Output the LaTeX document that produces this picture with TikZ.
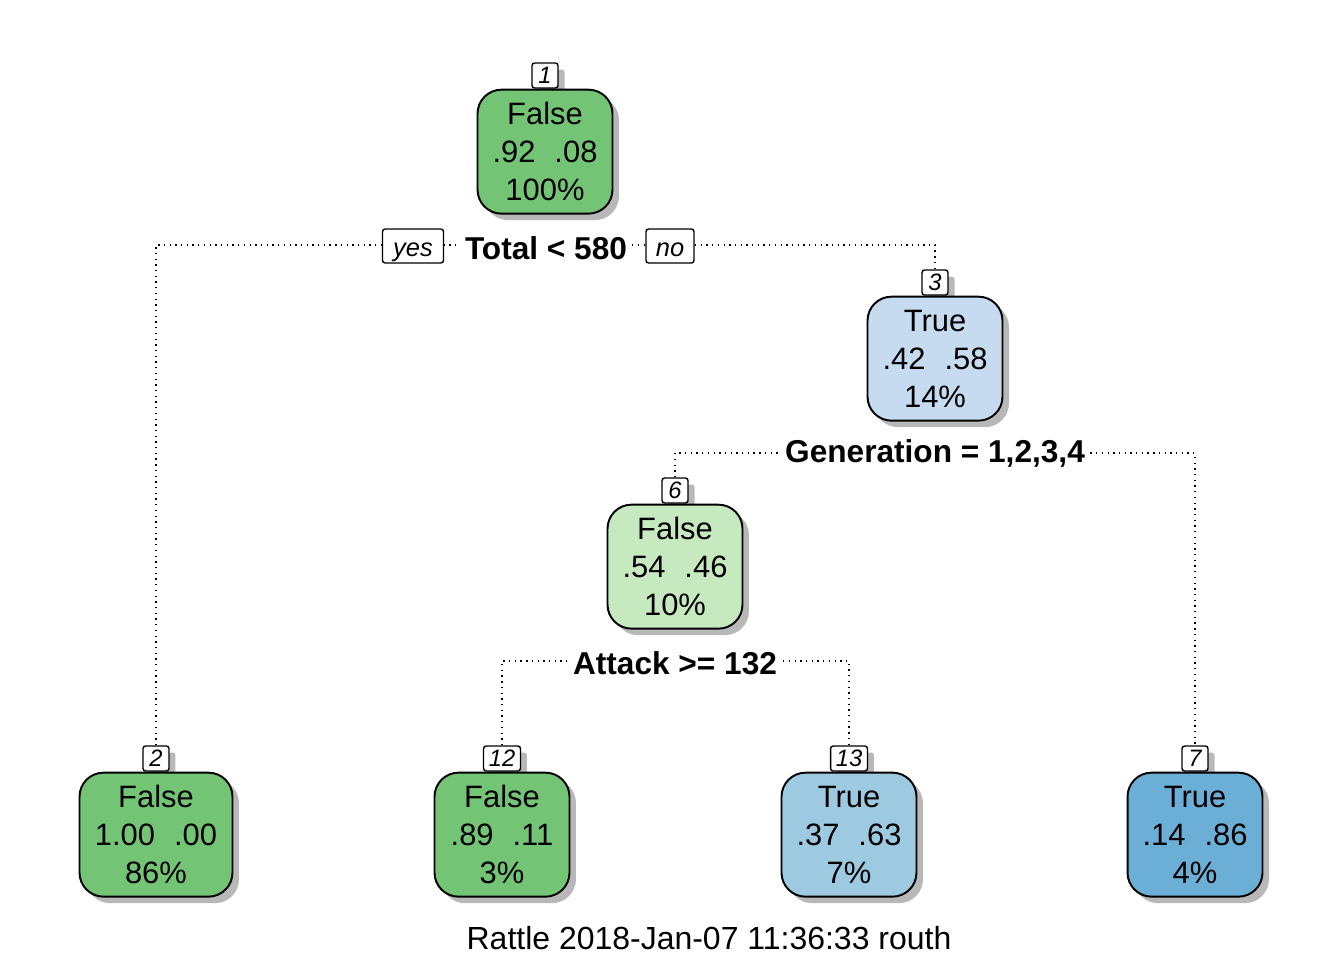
\documentclass[tikz,border=0pt]{standalone}
\usepackage{fontspec}
\setmainfont{Liberation Sans}
\usetikzlibrary{shadows,positioning}
\definecolor{grnDark}{HTML}{74C476}
\definecolor{grnLight}{HTML}{C7E9C0}
\definecolor{bluLight}{HTML}{C6DBEF}
\definecolor{bluMid}{HTML}{9ECAE1}
\definecolor{bluDark}{HTML}{6BAED6}
\newcommand{\pr}[2]{#1\hspace{0.38cm}#2}

\begin{document}
\begin{tikzpicture}[x=0.02cm,y=-0.02cm,
  shade/.style={drop shadow={shadow xshift=0.13cm,shadow yshift=-0.13cm,fill=black!28,opacity=1}},
  leaf/.style={draw,line width=1.1pt,rounded corners=0.48cm,minimum width=2.7cm,minimum height=2.48cm,
    inner sep=0pt,align=center,font=\fontsize{17.6}{21.6}\selectfont,shade},
  numbox/.style={draw,fill=white,line width=0.8pt,rounded corners=1.5pt,minimum width=0.52cm,minimum height=0.5cm,
    inner xsep=3pt,inner ysep=0pt,font=\fontsize{13.5}{13.5}\selectfont\itshape,shade},
  split/.style={fill=white,inner xsep=2pt,inner ysep=1pt,font=\fontsize{18}{18}\selectfont\bfseries},
  yesno/.style={draw,fill=white,line width=0.8pt,rounded corners=1.5pt,minimum height=0.68cm,inner sep=0pt,
    text height=12pt,text depth=0pt,font=\fontsize{14.5}{14.5}\selectfont\itshape},
  edge/.style={line width=0.75pt,dash pattern=on 0.75pt off 2.5pt}]
\useasboundingbox (0,0) rectangle (1344,960);

% number boxes
\node[numbox] (lab1) at (545,75.5) {1};
\node[numbox] (lab3) at (935,282.5) {3};
\node[numbox] (lab6) at (675,490.5) {6};
\node[numbox] (lab2) at (156,758.5) {2};
\node[numbox] (lab12) at (502,758.5) {12};
\node[numbox] (lab13) at (849,758.5) {13};
\node[numbox] (lab7) at (1195,758.5) {7};

% split points
\coordinate (s1) at (546,245);
\coordinate (s3) at (935,453);
\coordinate (s6) at (675,661);

% connectors
\draw[edge] (lab2.north) |- (s1) -| (lab3.north);
\draw[edge] (lab6.north) |- (s3) -| (lab7.north);
\draw[edge] (lab12.north) |- (s6) -| (lab13.north);

% tree nodes
\node[leaf,fill=grnDark,below=0pt of lab1] (n1) {False\\\pr{.92}{.08}\\100\%};
\node[leaf,fill=bluLight,below=0pt of lab3] (n3) {True\\\pr{.42}{.58}\\14\%};
\node[leaf,fill=grnLight,below=0pt of lab6] (n6) {False\\\pr{.54}{.46}\\10\%};
\node[leaf,fill=grnDark,minimum width=3.06cm,below=0pt of lab2] (n2) {False\\\pr{1.00}{.00}\\86\%};
\node[leaf,fill=grnDark,below=0pt of lab12] (n12) {False\\\pr{.89}{.11}\\3\%};
\node[leaf,fill=bluMid,below=0pt of lab13] (n13) {True\\\pr{.37}{.63}\\7\%};
\node[leaf,fill=bluDark,below=0pt of lab7] (n7) {True\\\pr{.14}{.86}\\4\%};

% split labels
\node[split] (t1) at (546,248) {Total < 580};
\node[yesno,minimum width=1.22cm] (yes) at (413,246) {yes};
\node[yesno,minimum width=0.96cm] (no) at (670,246) {no};
\node[split] (t3) at (935,453) {Generation = 1,2,3,4};
\node[split] (t6) at (675,663) {Attack >= 132};

\node[font=\fontsize{18.2}{18.2}\selectfont] (foot) at (709,938) {Rattle 2018-Jan-07 11:36:33 routh};
\end{tikzpicture}
\end{document}
